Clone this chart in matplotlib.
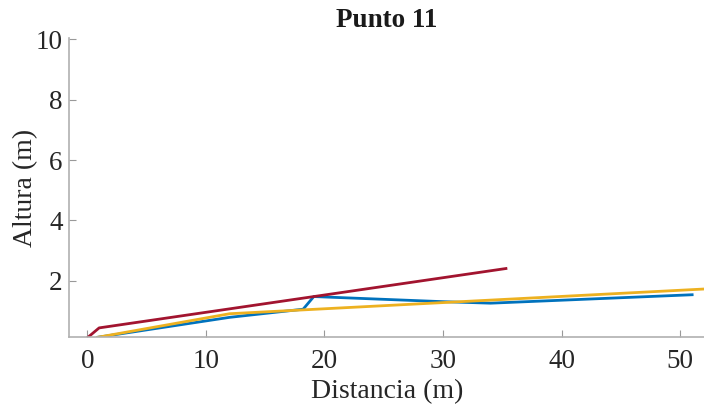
import numpy as np
import matplotlib.pyplot as plt

# series (distance m, height m)
red_x = [0.0, 1.0, 35.3]
red_y = [0.1, 0.43, 2.4]
blue_x = [0.9, 12.0, 18.2, 19.1, 30.0, 34.0, 51.0]
blue_y = [0.12, 0.78, 1.05, 1.47, 1.3, 1.25, 1.53]
orange_x = [0.9, 12.0, 30.0, 52.0]
orange_y = [0.12, 0.9, 1.27, 1.72]

plt.rcParams['font.family'] = ['Liberation Serif', 'DejaVu Serif']

fig = plt.figure(figsize=(7.04, 4.04), dpi=100)
ax = fig.add_axes([0.0987, 0.166, 0.9013, 0.74])

ax.plot(blue_x, blue_y, color='#0072BD', lw=2)
ax.plot(orange_x, orange_y, color='#EDB120', lw=2)
ax.plot(red_x, red_y, color='#A2142F', lw=2)

ax.set_xlim(-1.5, 52)
ax.set_ylim(0.13, 10.05)
ax.set_xticks([0, 10, 20, 30, 40, 50])
ax.set_yticks([2, 4, 6, 8, 10])
ax.tick_params(direction='in', labelsize=19.5, colors='#262626', length=5, width=0.8)
ax.tick_params(axis='both', color='#999999')
ax.tick_params(axis='x', pad=9)
ax.tick_params(axis='y', pad=5)
for s in ['top', 'right']:
    ax.spines[s].set_visible(False)
for s in ['left', 'bottom']:
    ax.spines[s].set_color('#b0b0b0')
    ax.spines[s].set_linewidth(1.2)

ax.set_xlabel('Distancia (m)', fontsize=20, color='#262626', labelpad=3)
ax.set_ylabel('Altura (m)', fontsize=20, color='#262626', labelpad=-2)
ax.set_title('Punto 11', fontsize=19.5, fontweight='bold', color='#1a1a1a', pad=8)

fig.savefig('out.png', dpi=100)
